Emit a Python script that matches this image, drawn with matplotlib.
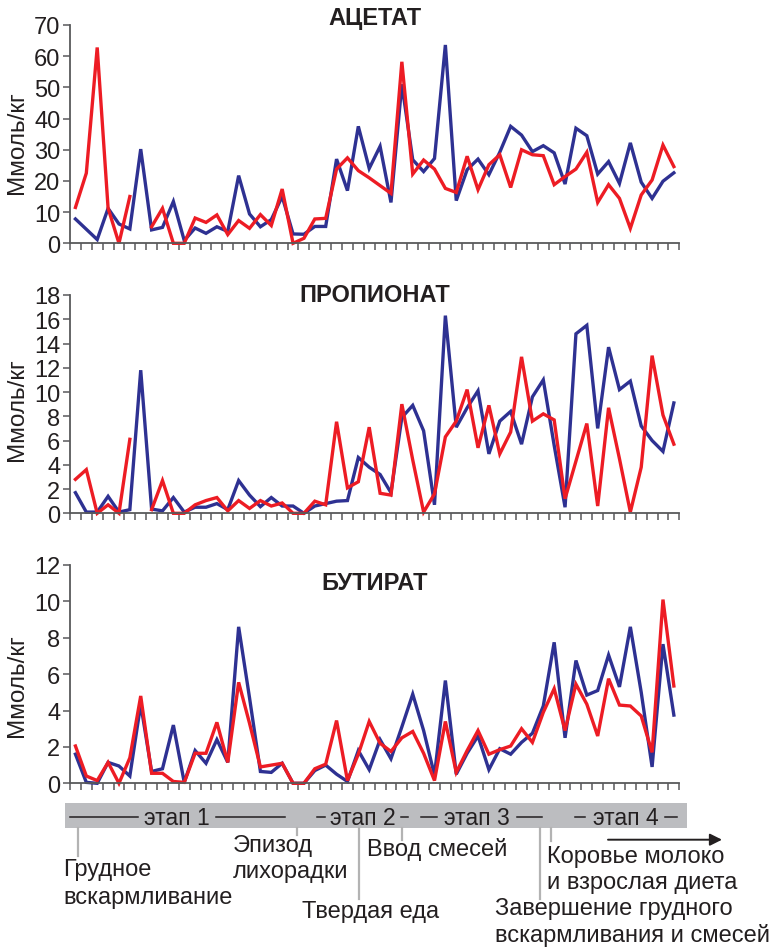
import numpy as np
import matplotlib
matplotlib.use('Agg')
import matplotlib.pyplot as plt
from matplotlib.patches import Rectangle

nan = np.nan

titles = ['АЦЕТАТ', 'ПРОПИОНАТ', 'БУТИРАТ']
ylabel = 'Ммоль/кг'

acetate_blue = [7.8, 4.5, 1.2, 11.2, 6.2, 4.6, 30.2, 4.3, 5.1, 13.4, 0.9, 4.9, 3.2, 5.3, 3.8, 21.7,
                9.4, 5.3, 7.6, 15.0, 3.0, 2.9, 5.4, 5.4, 27.0, 16.9, 37.5, 24.0, 31.1, 13.1, 51.0, 26.8,
                23.0, 27.2, 63.6, 13.7, 23.6, 27.0, 22.0, 29.2, 37.5, 34.7, 29.4, 31.3, 29.0, 19.0,
                36.9, 34.5, 22.2, 26.2, 19.2, 32.2, 19.6, 14.4, 19.9, 22.6]
acetate_red = [11.5, 22.5, 62.8, 11.3, 0.0, 15.0, nan, 5.3, 11.2, 0.0, 0.0, 8.1, 6.7, 9.1, 2.8, 7.3,
               4.8, 9.2, 5.7, 17.4, 0.0, 1.6, 7.8, 8.0, 23.8, 27.4, 23.3, 21.0, 18.5, 16.0, 58.2, 22.2,
               26.7, 23.8, 17.6, 16.3, 27.9, 17.2, 25.2, 28.4, 17.9, 30.0, 28.4, 28.1, 18.8, 21.4,
               23.8, 29.2, 13.1, 18.8, 14.4, 4.8, 15.5, 20.3, 31.5, 24.6]

propionate_blue = [1.7, 0.1, 0.1, 1.4, 0.1, 0.3, 11.8, 0.35, 0.2, 1.3, 0.1, 0.5, 0.5, 0.8, 0.3, 2.7,
                   1.5, 0.55, 1.3, 0.6, 0.6, 0.0, 0.6, 0.8, 1.0, 1.05, 4.6, 3.8, 3.2, 1.7, 7.9, 8.9,
                   6.8, 0.7, 16.3, 7.1, 8.7, 10.1, 4.9, 7.6, 8.4, 5.7, 9.6, 11.0, 5.6, 0.5,
                   14.8, 15.5, 7.0, 13.7, 10.2, 10.9, 7.2, 6.0, 5.1, 9.1]
propionate_red = [2.8, 3.6, 0.0, 0.7, 0.0, 6.1, nan, 0.3, 2.7, 0.0, 0.0, 0.7, 1.05, 1.3, 0.2, 1.05,
                  0.4, 1.05, 0.6, 0.85, 0.0, 0.0, 1.0, 0.7, 7.55, 2.1, 2.6, 7.1, 1.65, 1.5, 9.0, 4.4,
                  0.1, 1.6, 6.3, 7.6, 10.2, 5.4, 8.9, 4.9, 6.7, 12.9, 7.6, 8.2, 7.7, 1.2,
                  4.3, 7.4, 0.6, 8.7, 4.5, 0.1, 3.8, 13.0, 8.1, 5.7]

butyrate_blue = [1.6, 0.05, 0.0, 1.15, 0.95, 0.4, 4.35, 0.65, 0.8, 3.2, 0.05, 1.8, 1.1, 2.4, 1.15, 8.6,
                 4.7, 0.65, 0.6, 1.1, 0.0, 0.0, 0.7, 1.0, 0.5, 0.1, 1.8, 0.75, 2.4, 1.35, 3.1, 4.9,
                 2.9, 0.45, 5.65, 0.5, 1.65, 2.6, 0.75, 1.9, 1.6, 2.25, 2.75, 4.25, 7.75, 2.5,
                 6.75, 4.85, 5.1, 7.05, 5.3, 8.6, 5.0, 0.9, 7.65, 3.75]
butyrate_red = [2.05, 0.4, 0.15, 1.15, 0.0, 1.4, 4.8, 0.55, 0.55, 0.1, 0.05, 1.65, 1.65, 3.35, 1.15, 5.55,
                3.3, 0.9, 1.0, 1.1, 0.0, 0.0, 0.8, 1.05, 3.45, 0.15, 1.6, 3.4, 2.2, 1.75, 2.5, 2.85,
                1.65, 0.15, 3.4, 0.6, 1.8, 2.9, 1.6, 1.85, 2.05, 3.0, 2.25, 3.9, 5.2, 2.9,
                5.45, 4.35, 2.6, 5.75, 4.3, 4.25, 3.7, 1.7, 10.1, 5.35]

ymax = [70, 18, 12]
ystep = [10, 2, 2]

stage_labels = ['этап 1', 'этап 2', 'этап 3', 'этап 4']
events = [['Грудное', 'вскармливание'], ['Эпизод', 'лихорадки'], ['Твердая еда'],
          ['Ввод смесей'], ['Коровье молоко', 'и взрослая диета'],
          ['Завершение грудного', 'вскармливания и смесей']]

BLUE = '#2E3192'
RED = '#ED1C24'
TXT = '#231F20'
AX = '#58595B'

plt.rcParams['font.family'] = ['Liberation Sans', 'DejaVu Sans']

W, H = 782, 953
fig = plt.figure(figsize=(W / 100, H / 100), dpi=100)


def px_axes(left, top, right, bottom):
    return fig.add_axes([left / W, 1 - bottom / H, (right - left) / W, (bottom - top) / H])


panels = [(26, 244.3), (296, 514.3), (566, 784.3)]
series = [(acetate_blue, acetate_red), (propionate_blue, propionate_red), (butyrate_blue, butyrate_red)]
title_y = [18, 295.5, 584]
label_y = [143, 410, 686]

n = len(acetate_blue)
x = np.arange(n)
for k, ((top, bot), (b, r)) in enumerate(zip(panels, series)):
    ax = px_axes(70, top, 679.3, bot)
    ax.plot(x, b, color=BLUE, lw=2.4, clip_on=False, solid_joinstyle='miter')
    ax.plot(x, r, color=RED, lw=2.4, clip_on=False, solid_joinstyle='miter')
    ax.set_xlim(-0.5, n - 0.5)
    ax.set_ylim(0, ymax[k])
    ax.set_yticks(np.arange(0, ymax[k] + 0.1, ystep[k]))
    ax.set_xticks(np.arange(-0.5, n, 1))
    ax.set_xticklabels([])
    for s in ['top', 'right']:
        ax.spines[s].set_visible(False)
    for s in ['left', 'bottom']:
        ax.spines[s].set_color(AX)
        ax.spines[s].set_linewidth(1.3)
    ax.tick_params(axis='both', colors=AX, length=5, width=1.1, direction='out')
    ax.tick_params(axis='y', labelsize=17, labelcolor=TXT, pad=2)
    ax.patch.set_visible(False)
    fig.text(375 / W, 1 - title_y[k] / H, titles[k], fontsize=17, fontweight='bold',
             color=TXT, ha='center', va='center')
    fig.text(17 / W, 1 - label_y[k] / H, ylabel, fontsize=17.5, color=TXT,
             rotation=90, ha='center', va='center')

# annotation overlay in pixel coordinates
ov = fig.add_axes([0, 0, 1, 1])
ov.set_xlim(0, W)
ov.set_ylim(H, 0)
ov.axis('off')
ov.patch.set_visible(False)

ov.add_patch(Rectangle((65, 804), 622, 24.5, color='#BCBDC0', lw=0))
for (x0, x1) in [(70, 138), (215.7, 285), (316.7, 325), (401, 408), (420.7, 436.7),
                 (516.7, 541.7), (575, 585), (665, 676.7)]:
    ov.plot([x0, x1], [818, 818], color=TXT, lw=1.1)
for lab, cx in zip(stage_labels, [176.5, 363, 476.7, 626]):
    ov.text(cx, 825.5, lab, fontsize=16.5, color=TXT, ha='center', va='baseline')

GL = '#B3B3B3'
for (xx, y1) in [(78.3, 857), (296.7, 836), (359.3, 900), (402.3, 841), (540, 900), (550.7, 842)]:
    ov.plot([xx, xx], [828.5, y1], color=GL, lw=1.6)

text_pos = [(63, [876, 904]), (233, [852, 878.5]), (302, [918.5]), (367, [856]),
            (547, [863.5, 889.5]), (495, [915.5, 942])]
for lines, (tx, ys) in zip(events, text_pos):
    for line, ty in zip(lines, ys):
        ov.text(tx, ty, line, fontsize=17, color=TXT, ha='left', va='baseline')

ov.annotate('', xy=(722, 840.7), xytext=(608, 840.7),
            arrowprops=dict(arrowstyle='-|>', color=TXT, lw=1.4, mutation_scale=18,
                            shrinkA=0, shrinkB=0))

fig.savefig('out.png', dpi=100)
